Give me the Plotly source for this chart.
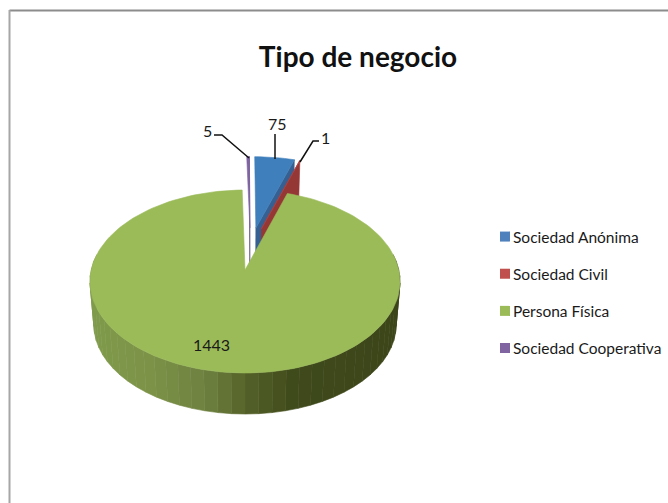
import math
import plotly.graph_objects as go

categories = ["Sociedad Anónima", "Sociedad Civil", "Persona Física", "Sociedad Cooperativa"]
values = [75, 1, 1443, 5]
top_colors = ["#3F7FBC", "#B5413F", "#9BBB59", "#8064A2"]
wall_colors = ["#376092", "#953735", "#5F7530", "#5A4A78"]
legend_colors = ["#4F81BD", "#C0504D", "#9BBB59", "#8064A2"]
wall_stops = [(90, "#7F9B4B"), (150, "#7C9247"), (205, "#6E8140"), (250, "#535F28"),
              (295, "#3F4A1B"), (400, "#3C4519")]
title_text = "Tipo de negocio"
FONT = "Lato"

CX, CY, A, B, K = 245, 270, 90.05, 153.8, 0.1257   # projection of the disc
SHRINK, DEPTH = 0.975, 43.6                         # bottom rim
EXPLODE = 0.25

total = sum(values)
angles = []
cur = 0.0
for v in values:
    angles.append((cur, cur + v / total * 360))
    cur += v / total * 360


def unit(t):
    return math.sin(math.radians(t)), math.cos(math.radians(t))


def project(u, v):
    f = 1 + K * v
    return CX + B * u / f, CY - A * v / f


def lower(p):
    return CX + (p[0] - CX) * SHRINK, CY + DEPTH + (p[1] - CY) * SHRINK


green_mid = sum(angles[2]) / 2
gu, gv = unit(green_mid)
C = (-EXPLODE * gu, -EXPLODE * gv)


def apex(i):
    m = sum(angles[i]) / 2
    mu, mv = unit(m)
    return C[0] + EXPLODE * mu, C[1] + EXPLODE * mv


def rim(i, t):
    a = apex(i)
    u, v = unit(t)
    return project(a[0] + u, a[1] + v)


def hex_mix(c1, c2, t):
    a = [int(c1[j:j + 2], 16) for j in (1, 3, 5)]
    b = [int(c2[j:j + 2], 16) for j in (1, 3, 5)]
    return "#%02X%02X%02X" % tuple(round(p + (q - p) * t) for p, q in zip(a, b))


def wall_color(x):
    for (x0, c0), (x1, c1) in zip(wall_stops, wall_stops[1:]):
        if x <= x1:
            return hex_mix(c0, c1, max(0, (x - x0) / (x1 - x0)))
    return wall_stops[-1][1]


fig = go.Figure()


def poly(pts, color, name=None, group=None):
    fig.add_trace(go.Scatter(
        x=[p[0] for p in pts] + [pts[0][0]], y=[p[1] for p in pts] + [pts[0][1]],
        mode="lines", fill="toself", fillcolor=color, line=dict(color=color, width=0.6),
        showlegend=False, hoverinfo="skip" if name is None else "name",
        name=name or "", legendgroup=group))


def slice_top(i):
    t0, t1 = angles[i]
    n = max(2, int((t1 - t0) / 2))
    arc = [rim(i, t0 + (t1 - t0) * j / n) for j in range(n + 1)]
    return [project(*apex(i))] + arc


# small slices, back to front
for i in (3, 0, 1):
    t1 = angles[i][1]
    a = project(*apex(i))
    r = rim(i, t1)
    poly([a, r, lower(r), lower(a)], wall_colors[i])
    poly(slice_top(i), top_colors[i], categories[i], categories[i])

# outer wall of the large slice, drawn in shaded strips
N = 44
for j in range(N):
    t0 = 80 + 200 * j / N
    t1 = 80 + 200 * (j + 1) / N
    p0, p1 = rim(2, t0), rim(2, t1)
    poly([p0, p1, lower(p1), lower(p0)], wall_color((p0[0] + p1[0]) / 2))
poly(slice_top(2), top_colors[2], categories[2], categories[2])

# legend entries
for name, col in zip(categories, legend_colors):
    fig.add_trace(go.Scatter(x=[None], y=[None], mode="markers", name=name, legendgroup=name,
                             marker=dict(symbol="square", size=10, color=col)))

# leader lines
leaders = [[(214, 135), (222, 135), (249, 158)], [(275, 134), (275, 159)],
           [(300, 162), (313, 141), (319, 141)]]
for L in leaders:
    fig.add_trace(go.Scatter(x=[p[0] for p in L], y=[p[1] for p in L], mode="lines",
                             line=dict(color="#111111", width=1.5), showlegend=False, hoverinfo="skip"))

label_pos = [(277, 123), (325, 137), (211, 344), (207, 130)]
anns = [dict(x=p[0], y=p[1], text=str(v), showarrow=False, xanchor="center", yanchor="middle",
             font=dict(family=FONT, size=16, color="#1a1a1a"))
        for v, p in zip(values, label_pos)]

shapes = [dict(type="line", x0=9.5, x1=668, y0=10.5, y1=10.5, line=dict(color="#8C8C8C", width=2)),
          dict(type="line", x0=9.5, x1=9.5, y0=10, y1=503, line=dict(color="#A6A6A6", width=2))]

fig.update_layout(
    width=668, height=503, margin=dict(l=0, r=0, t=0, b=0, autoexpand=False), autosize=False,
    paper_bgcolor="white", plot_bgcolor="white",
    xaxis=dict(range=[0, 668], visible=False, fixedrange=True),
    yaxis=dict(range=[503, 0], visible=False, fixedrange=True),
    title=dict(text=title_text, x=358 / 668, y=1 - 57 / 503, xanchor="center", yanchor="middle",
               xref="paper", yref="paper",
               font=dict(family=FONT, size=28, color="#111111", weight=700)),
    legend=dict(x=473 / 668, y=1 - 220 / 503, xanchor="left", yanchor="top", bgcolor="rgba(0,0,0,0)",
                tracegroupgap=14, font=dict(family=FONT, size=15.5, color="#1a1a1a"),
                entrywidth=150, entrywidthmode="pixels",
                itemclick=False, itemdoubleclick=False),
    annotations=anns, shapes=shapes, showlegend=True,
)

post = """
document.documentElement.style.margin='0';
document.body.style.margin='0';
document.body.style.overflow='hidden';
document.querySelectorAll('.legend .legendpoints').forEach(function(g){
  g.setAttribute('transform','translate(12,0)');
});
"""
fig.write_html("out.html", post_script=post, config=dict(displayModeBar=False))
